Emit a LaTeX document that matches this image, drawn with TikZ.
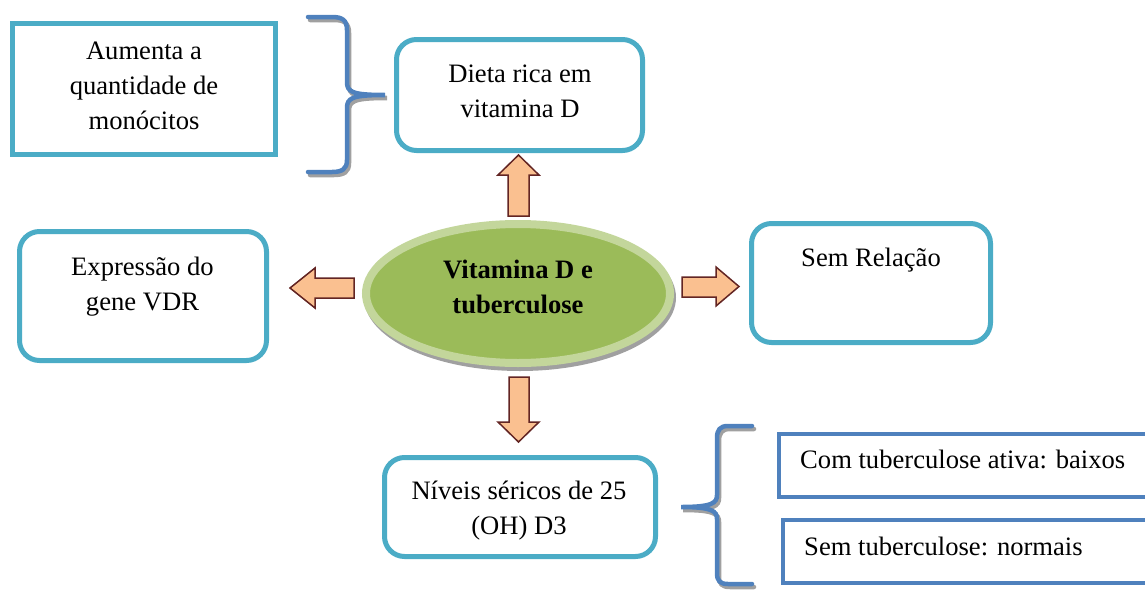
\documentclass[tikz,border=0pt]{standalone}
\usepackage{fontspec}
\setmainfont{Liberation Serif}
\usetikzlibrary{shapes.geometric}
\definecolor{tealb}{HTML}{4BACC6}
\definecolor{blueb}{HTML}{4F81BD}
\definecolor{arrfill}{HTML}{FAC090}
\definecolor{arrline}{HTML}{632523}
\definecolor{ellin}{HTML}{9BBB59}
\definecolor{ellring}{HTML}{C3D69B}
\definecolor{shad}{HTML}{A0A0A0}
\begin{document}
\begin{tikzpicture}[x=1pt,y=-1pt,
  tbox/.style={draw=tealb,line width=5pt,fill=white,inner sep=0pt,rounded corners=20pt},
  sbox/.style={draw=tealb,line width=5pt,fill=white,inner sep=0pt},
  bbox/.style={draw=blueb,line width=4pt,fill=white,inner sep=0pt},
  txt/.style={font=\fontsize{26.6}{35}\selectfont,align=center,inner sep=0pt,anchor=base},
  ltxt/.style={font=\fontsize{26.6}{35}\selectfont,inner sep=0pt,anchor=base west},
  barrow/.style={fill=arrfill,draw=arrline,line width=1.5pt,line join=miter},
  bracestyle/.style={draw=blueb,line width=4.5pt,line cap=round},
  braceshadow/.style={draw=shad,line width=4.5pt,line cap=round}]
\useasboundingbox (0,0) rectangle (1145,589);
\clip (0,0) rectangle (1145,589);

% boxes
\node[sbox,minimum width=263pt,minimum height=131pt] (aum) at (144,89) {};
\node[tbox,minimum width=246pt,minimum height=111pt] (dieta) at (519.5,95) {};
\node[tbox,minimum width=247pt,minimum height=129pt] (expr) at (143,296) {};
\node[tbox,minimum width=239pt,minimum height=119pt] (sem) at (871,283) {};
\node[tbox,minimum width=271pt,minimum height=99pt] (niv) at (520,507) {};
\node[bbox,minimum width=381pt,minimum height=63pt] (com) at (969.5,465.5) {};
\node[bbox,minimum width=377pt,minimum height=63pt] (semtb) at (971.5,551.5) {};

% texts (anchor base = last line baseline)
\node[txt] (taum) at (144,129) {Aumenta a\\quantidade de\\monócitos};
\node[txt] (tdieta) at (520,117) {Dieta rica em\\vitamina D};
\node[txt] (texpr) at (142.5,310) {Expressão do\\gene VDR};
\node[txt] (tsem) at (871,266) {Sem Relação};
\node[txt] (tniv) at (519,534) {Níveis séricos de 25\\(OH) D3};
\node[ltxt] (tcom) at (800,468) {Com tuberculose ativa: baixos};
\node[ltxt] (tsemtb) at (804,555) {Sem tuberculose: normais};

% central ellipse
\fill[shad] (520,297.5) ellipse [x radius=156, y radius=73.5];
\node[ellipse,fill=ellin,draw=ellring,line width=8pt,minimum width=304pt,minimum height=139pt,inner sep=0pt] (vd) at (518,293.5) {};
\node[txt,font=\fontsize{26.6}{35}\selectfont\bfseries] (tvd) at (518,313) {Vitamina D e\\tuberculose};

% block arrows
\draw[barrow] (508,216) -- (508,175) -- (498,175) -- (518.5,155) -- (539,175) -- (529,175) -- (529,216) -- cycle;
\draw[barrow] (509,377) -- (509,422) -- (498,422) -- (518.5,442) -- (539,422) -- (529,422) -- (529,377) -- cycle;
\draw[barrow] (682,277) -- (716,277) -- (716,267) -- (739,286.5) -- (716,306) -- (716,297) -- (682,297) -- cycle;
\draw[barrow] (354,278) -- (315,278) -- (315,268) -- (290,288) -- (315,308) -- (315,298) -- (354,298) -- cycle;

% upper brace
\begin{scope}[shift={(2,3)}]
\draw[braceshadow] (308,17) -- (332,17) .. controls (342,17) and (347,20) .. (347,30) -- (347,82) .. controls (347,92) and (352,95) .. (385,95) .. controls (352,95) and (347,98) .. (347,108) -- (347,160) .. controls (347,169) and (342,172) .. (332,172) -- (308,172);
\end{scope}
\draw[bracestyle] (308,17) -- (332,17) .. controls (342,17) and (347,20) .. (347,30) -- (347,82) .. controls (347,92) and (352,95) .. (385,95) .. controls (352,95) and (347,98) .. (347,108) -- (347,160) .. controls (347,169) and (342,172) .. (332,172) -- (308,172);

% lower brace
\begin{scope}[shift={(2,3)}]
\draw[braceshadow] (752,426) -- (728,426) .. controls (720,426) and (717,430) .. (717,438) -- (717,495) .. controls (717,503) and (712,507) .. (681,507) .. controls (712,507) and (717,511) .. (717,519) -- (717,573) .. controls (717,581) and (720,584) .. (728,584) -- (752,584);
\end{scope}
\draw[bracestyle] (752,426) -- (728,426) .. controls (720,426) and (717,430) .. (717,438) -- (717,495) .. controls (717,503) and (712,507) .. (681,507) .. controls (712,507) and (717,511) .. (717,519) -- (717,573) .. controls (717,581) and (720,584) .. (728,584) -- (752,584);
\end{tikzpicture}
\end{document}
